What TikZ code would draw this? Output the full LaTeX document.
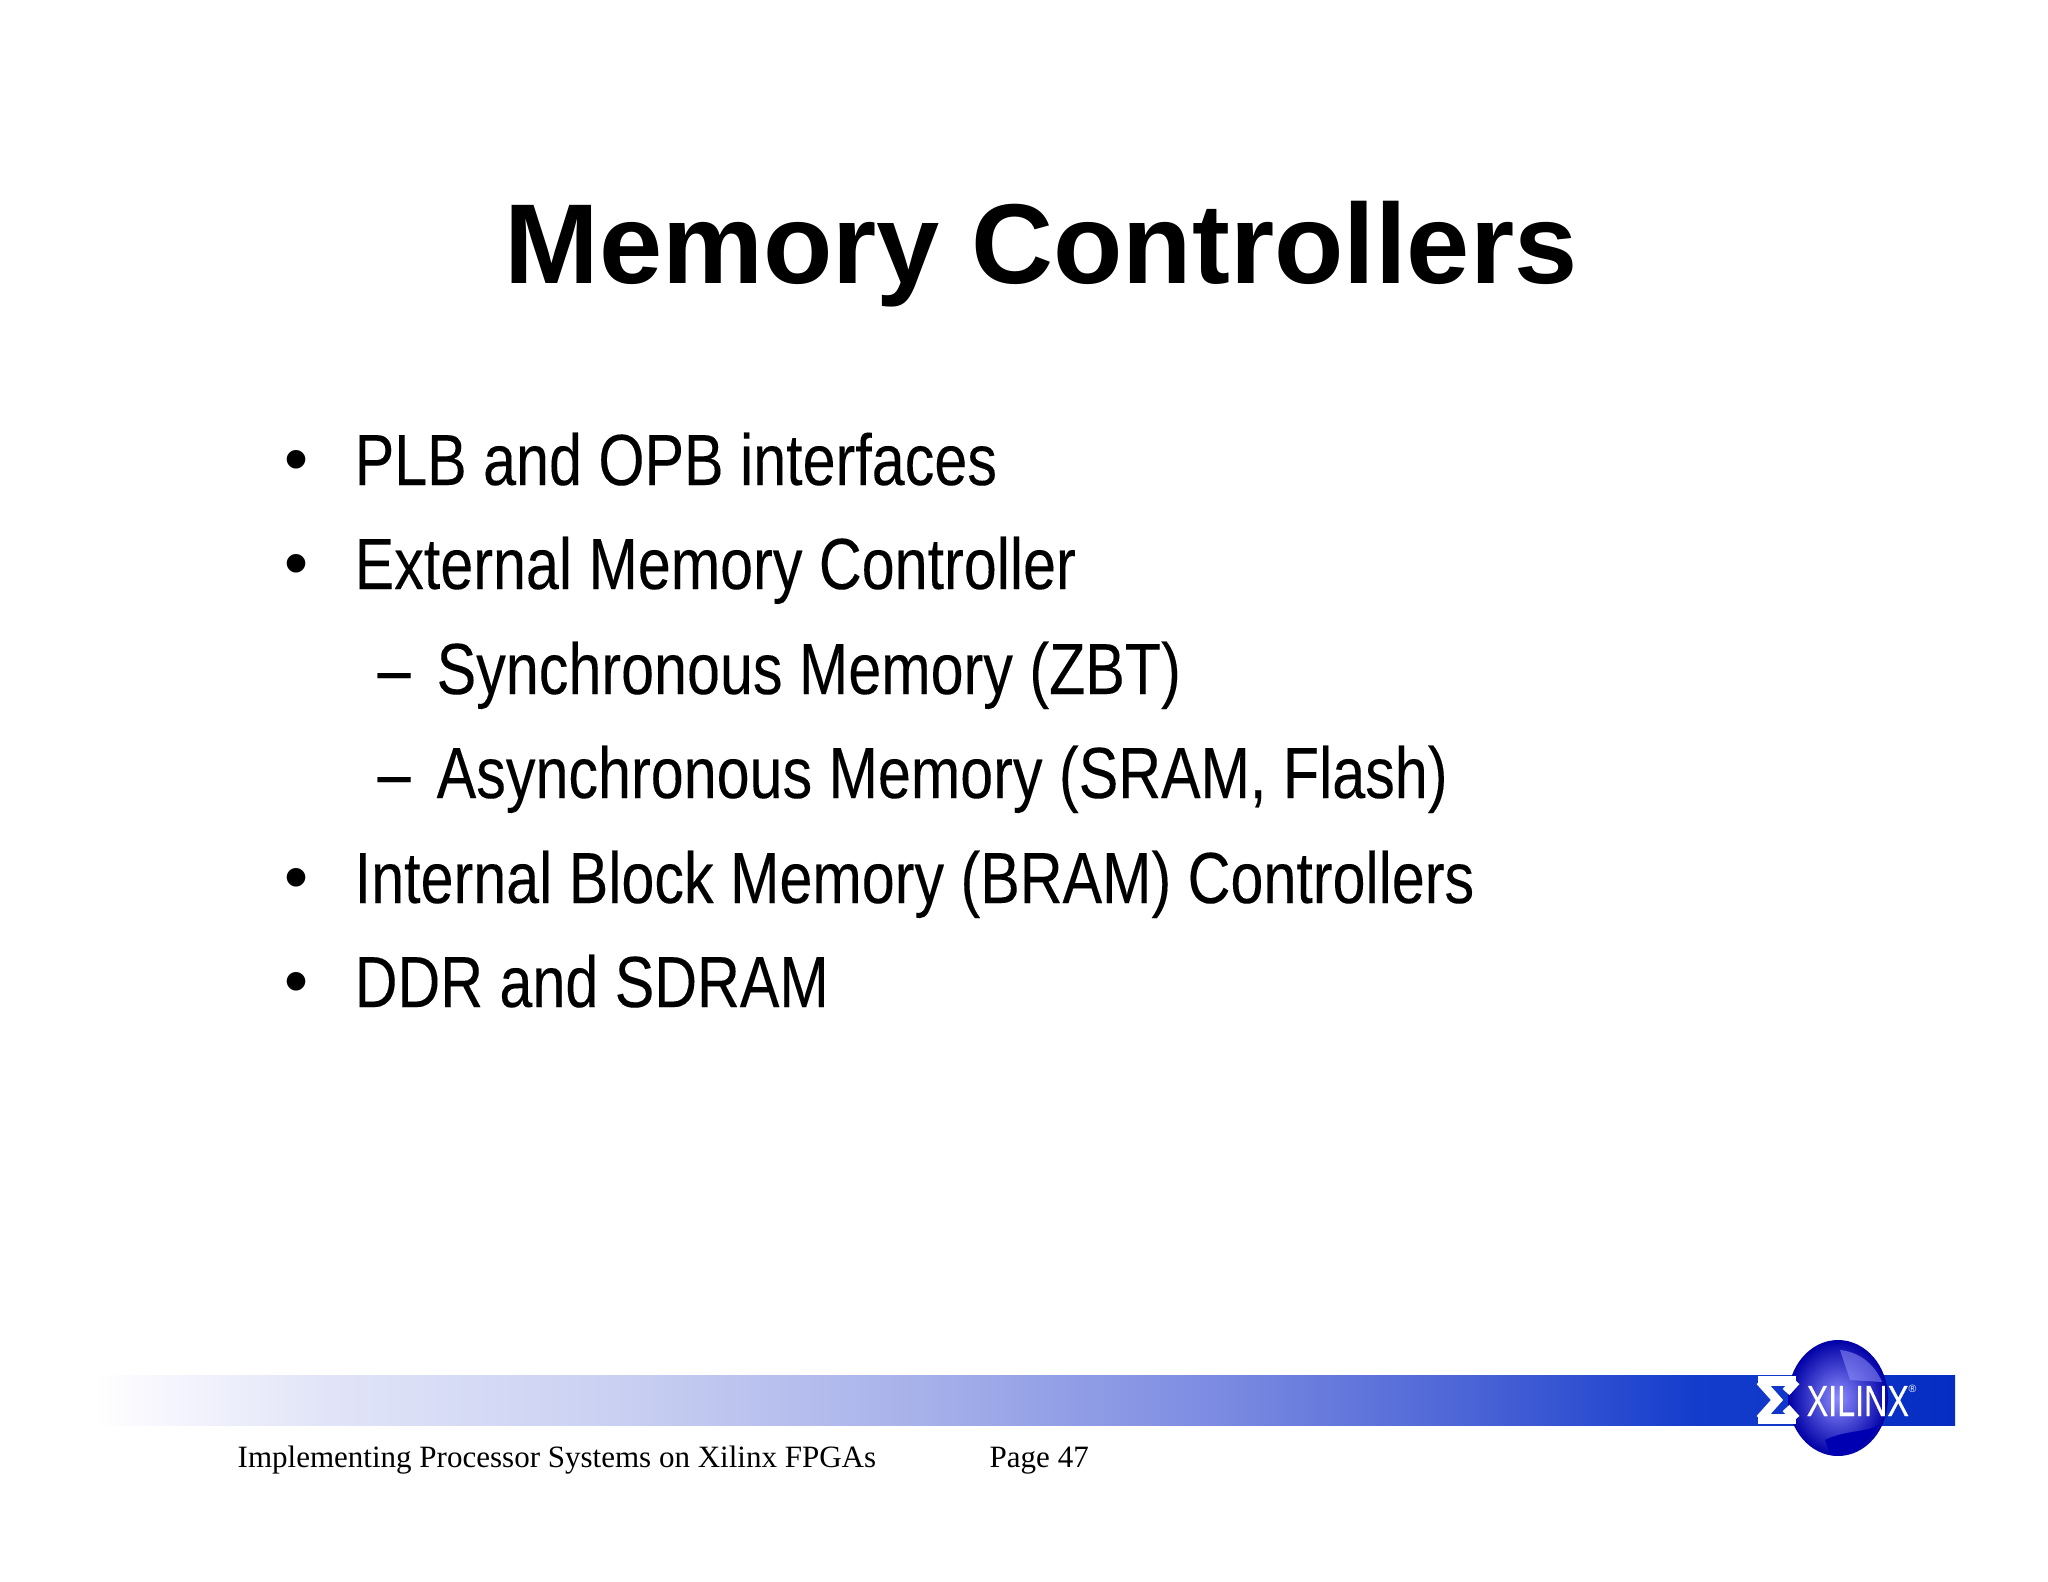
\documentclass[tikz,border=0pt]{standalone}
\usepackage{fontspec}
\usepackage{xcolor}
\setmainfont{Liberation Serif}
\setsansfont{Liberation Sans}
\newfontfamily\slimfont[FakeStretch=0.818,FakeBold=0.12]{Liberation Sans}
\newfontfamily\logofont[FakeStretch=0.74,FakeBold=0.3]{Liberation Sans}
\pgfdeclarehorizontalshading{bandfade}{100bp}{
  color(0bp)=(white);
  color(25bp)=(white);
  color(28bp)=(rgb,255:red,240;green,241;blue,252);
  color(31bp)=(rgb,255:red,226;green,229;blue,248);
  color(39bp)=(rgb,255:red,202;green,208;blue,242);
  color(47bp)=(rgb,255:red,168;green,178;blue,234);
  color(55bp)=(rgb,255:red,125;green,140;blue,226);
  color(62bp)=(rgb,255:red,75;green,100;blue,214);
  color(68bp)=(rgb,255:red,20;green,60;blue,204);
  color(75bp)=(rgb,255:red,5;green,45;blue,195);
  color(100bp)=(rgb,255:red,5;green,45;blue,195)}
\tikzset{
  point/.style={anchor=base west,inner sep=0pt,font=\slimfont\fontsize{20.6}{24}\selectfont},
  dot/.style={anchor=base west,inner sep=0pt,font=\sffamily\fontsize{19.5}{24}\selectfont},
  foot/.style={anchor=base west,inner sep=0pt,font=\rmfamily\fontsize{8.82}{10}\selectfont},
  sigmaline/.style={white,line width=2.6pt,line cap=butt,line join=miter}
}
\begin{document}
\begin{tikzpicture}[x=0.01cm,y=-0.01cm]
    \useasboundingbox (0,0) rectangle (2048,1582);
    \node[anchor=base,inner sep=0pt,font=\sffamily\bfseries\fontsize{32.3}{38}\selectfont] (title) at (1041,284) {Memory Controllers};
    \foreach \n/\y/\t in {plb/485/PLB and OPB interfaces,ext/589/External Memory Controller,bram/903/Internal Block Memory (BRAM) Controllers,ddr/1007/DDR and SDRAM}{
        \node[dot] (\n dot) at (284,\y-3) {•};
        \node[point] (\n) at (354,\y) {\t};
    }
    \foreach \n/\y/\t in {sync/694/Synchronous Memory (ZBT),async/798/{Asynchronous Memory (SRAM, Flash)}}{
        \node[point] (\n dash) at (377,\y) {–};
        \node[point] (\n) at (436,\y) {\t};
    }
    \path[shading=bandfade] (95,1375) rectangle (1955,1425);
    \shade[inner color=blue!45!white,outer color=blue!65!black] (1838,1398) ellipse (50 and 58);
    \fill[blue!70!black] (1825,1440) .. controls (1845,1430) and (1870,1432) .. (1878,1425) .. controls (1870,1445) and (1850,1458) .. (1830,1455) -- cycle;
    \fill[blue!40!white,opacity=0.5] (1840,1350) .. controls (1860,1352) and (1875,1365) .. (1882,1382) -- (1850,1380) -- cycle;
    \draw[sigmaline] (1758,1381) -- (1796,1381) (1758,1419) -- (1796,1419);
    \draw[sigmaline] (1760,1381) -- (1777,1400) -- (1760,1419);
    \draw[sigmaline] (1796,1381) -- (1786,1392) (1786,1408) -- (1796,1419);
    \node[anchor=base west,inner sep=0pt,white,font=\logofont\fontsize{12.4}{14}\selectfont] (xilinx) at (1806,1416) {XILINX};
    \node[anchor=base west,inner sep=0pt,white,font=\sffamily\fontsize{3}{4}\selectfont] (mark) at (1908,1392) {®};
    \node[foot] (course) at (237,1467) {Implementing Processor Systems on Xilinx FPGAs};
    \node[foot] (page) at (989,1467) {Page 47};
\end{tikzpicture}
\end{document}
